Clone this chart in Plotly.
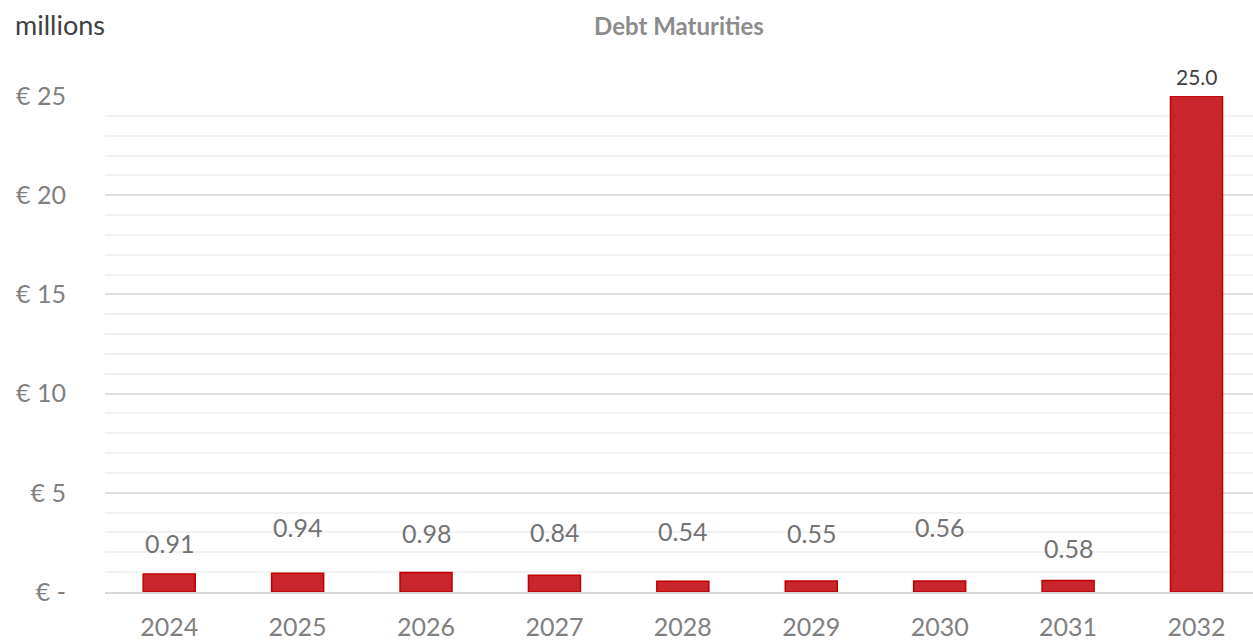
import plotly.graph_objects as go

years = ['2024', '2025', '2026', '2027', '2028', '2029', '2030', '2031', '2032']
values = [0.91, 0.94, 0.98, 0.84, 0.54, 0.55, 0.56, 0.58, 25.0]
value_labels = ['0.91', '0.94', '0.98', '0.84', '0.54', '0.55', '0.56', '0.58', '25.0']
y_tickvals = [0, 5, 10, 15, 20, 25]
y_ticktext = ['€ -', '€ 5', '€ 10', '€ 15', '€ 20', '€ 25']

# label placement offsets (pixels above bar top), sizes and colours - styling only
label_offsets = [31, 46, 40, 43, 50, 48, 54, 32, 20]
label_sizes = [25] * 8 + [21]
label_colors = ['#737373'] * 8 + ['#404040']

FONT = 'Lato'

fig = go.Figure()
fig.add_trace(go.Bar(
    x=years, y=values,
    marker=dict(color='#c9252c', line=dict(color='#c00000', width=1.5)),
    hoverinfo='skip',
))

# category axis: annotations use the category index
for i, (v, lab, off, sz, col) in enumerate(zip(values, value_labels, label_offsets,
                                               label_sizes, label_colors)):
    fig.add_annotation(x=i, y=v, text=lab, showarrow=False, yanchor='middle',
                       yshift=off, font=dict(family=FONT, size=sz, color=col))

fig.add_annotation(xref='paper', yref='paper', x=-0.08, y=1.0, yshift=72,
                   xanchor='left', yanchor='middle', text='millions', showarrow=False,
                   font=dict(family=FONT, size=27, color='#404040'))

fig.update_layout(
    width=1253, height=643,
    margin=dict(l=105, r=0, t=96, b=51, autoexpand=False),
    paper_bgcolor='white', plot_bgcolor='white',
    bargap=0.595,
    showlegend=False,
    title=dict(text='<b>Debt Maturities</b>', x=0.5, xref='paper', xanchor='center',
               y=1 - 27 / 643, yref='container', yanchor='middle',
               font=dict(family=FONT, size=24, color='#8c8c8c')),
    xaxis=dict(type='category', categoryorder='array', categoryarray=years,
               range=[-0.5, len(years) - 0.56],
               showgrid=False, showline=True, linecolor='#d9d9d9', linewidth=2,
               ticks='outside', ticklen=12, tickcolor='rgba(0,0,0,0)', automargin=False,
               tickfont=dict(family=FONT, size=25, color='#808080'), fixedrange=True),
    yaxis=dict(range=[0, 25], tickvals=y_tickvals, ticktext=y_ticktext, automargin=False,
               showgrid=True, gridcolor='#dedede', gridwidth=1.5,
               minor=dict(dtick=1, showgrid=True, gridcolor='#f2f2f2', gridwidth=1.5),
               zeroline=False, ticks='outside', ticklen=33, tickcolor='rgba(0,0,0,0)',
               tickfont=dict(family=FONT, size=25, color='#808080'), fixedrange=True),
)

fig.write_html('out.html')
